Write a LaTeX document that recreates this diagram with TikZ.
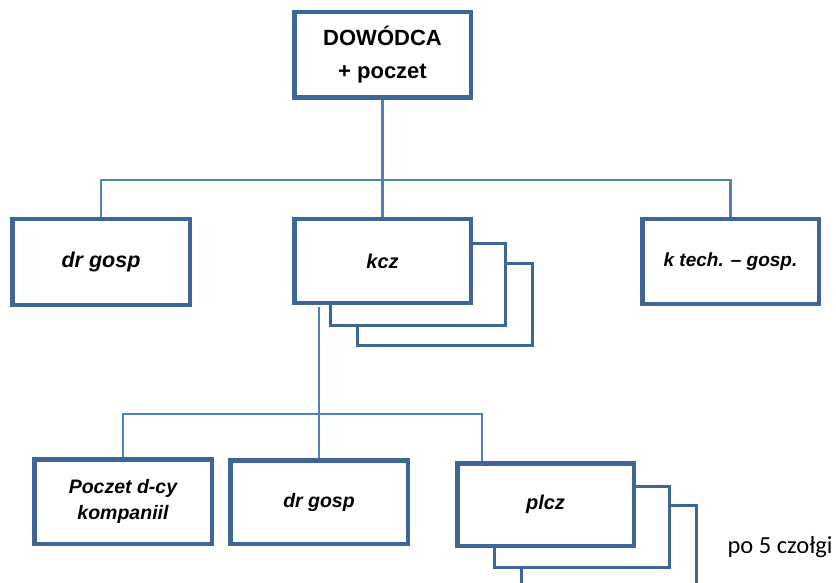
\documentclass[tikz,border=0pt]{standalone}
\usepackage{fontspec}
\setmainfont{Liberation Sans}
\newfontfamily\calibfont{Carlito}
\definecolor{boxblue}{HTML}{3F6594}
\definecolor{lineblue}{HTML}{4F81BD}
\begin{document}
\begin{tikzpicture}[x=1pt,y=-1pt,
  box/.style={draw=boxblue,line width=3pt,fill=white,minimum width=175pt,minimum height=83pt,inner sep=0pt,align=center},
  lbl/.style={font=\fontsize{20}{26}\selectfont\bfseries\itshape},
  conn/.style={draw=lineblue,line width=2.5pt},
  rim/.style={draw=boxblue,line width=3pt}]
\useasboundingbox (0,0) rectangle (836,583);
\clip (0,0) rectangle (836,583);
\coordinate (bus1) at (0,180);
\coordinate (bus2) at (0,414);
\coordinate (kczout) at (319,307);
\coordinate (plin) at (482,465);
% nodes
\node[box,minimum height=84pt,font=\fontsize{22}{33}\selectfont\bfseries] (dow) at (382.5,55) {DOWÓDCA\\+ poczet};
\node[box,minimum width=176pt,minimum height=84pt,font=\fontsize{21.5}{26}\selectfont\bfseries\itshape] (drg1) at (101,262) {dr gosp};
\node[box,minimum height=82pt] (kf2) at (444.5,304) {};
\node[box,minimum height=82pt] (kf1) at (418,284) {};
\node[box,minimum height=82pt,lbl] (kcz) at (382.5,261) {kcz};
\node[box,lbl,font=\fontsize{19}{24}\selectfont\bfseries\itshape] (ktech) at (730.5,261.5) {k tech. – gosp.};
\node[box,minimum width=176pt,lbl,font=\fontsize{19.5}{26}\selectfont\bfseries\itshape] (poczet) at (123,501.5) {Poczet d-cy\\kompaniil};
\node[box,minimum width=176pt,minimum height=82pt,lbl,font=\fontsize{19.5}{26}\selectfont\bfseries\itshape] (drg2) at (319,502) {dr gosp};
\node[box,minimum height=81pt] (pf2) at (608.5,545.5) {};
\node[box,minimum height=81pt] (pf1) at (581.5,526.5) {};
\node[box,minimum height=81pt,lbl] (plcz) at (545.5,504.5) {plcz};
\node[font=\calibfont\fontsize{24.5}{28}\selectfont,anchor=center] (po5) at (780,547) {po 5 czołgi};
% connectors
\draw[conn] (dow.south) -- (kcz.north);
\draw[conn] (drg1.north) -- (drg1.north |- bus1) -- (ktech.north |- bus1) -- (ktech.north);
\draw[conn] (kczout) -- (drg2.north);
\draw[conn] (poczet.north) -- (poczet.north |- bus2) -- (plin |- bus2) -- (plin);
% redraw borders over connector ends
\draw[rim] (dow.south west) rectangle (dow.north east);
\draw[rim] (drg1.south west) rectangle (drg1.north east);
\draw[rim] (kcz.south west) rectangle (kcz.north east);
\draw[rim] (ktech.south west) rectangle (ktech.north east);
\draw[rim] (poczet.south west) rectangle (poczet.north east);
\draw[rim] (drg2.south west) rectangle (drg2.north east);
\draw[rim] (plcz.south west) rectangle (plcz.north east);
\end{tikzpicture}
\end{document}
